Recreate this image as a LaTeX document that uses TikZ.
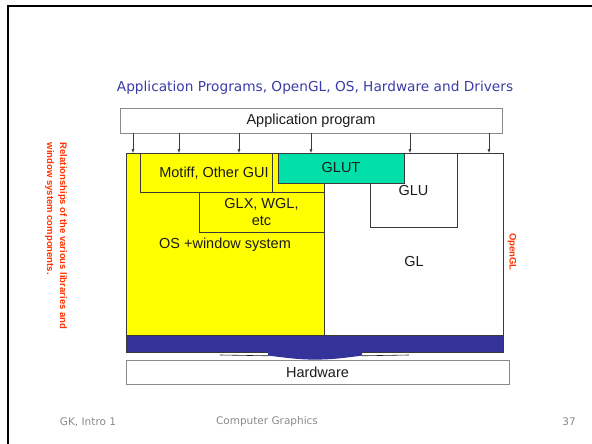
\documentclass[tikz,border=0pt]{standalone}
\usepackage{fontspec}
\setmainfont{Liberation Sans}
\newfontfamily\slidefont{DejaVu Sans}
\usetikzlibrary{positioning,calc,arrows.meta}
\definecolor{GTitle}{HTML}{3B3BA8}
\definecolor{GInk}{HTML}{1B1B1B}
\definecolor{GLine}{HTML}{3A3A3A}
\definecolor{GYellow}{HTML}{FFFF00}
\definecolor{GTeal}{HTML}{00E0A8}
\definecolor{GBlue}{HTML}{333399}
\definecolor{GRed}{HTML}{FF3300}
\definecolor{GGray}{HTML}{8A8A8A}

\begin{document}
\begin{tikzpicture}[x=1pt, y=-1pt,
  layer/.style={draw=GLine, line width=0.8pt, inner sep=0pt, text=GInk,
    font=\fontsize{14.5}{17}\selectfont},
  label/.style={inner sep=0pt, text=GInk, font=\fontsize{14.5}{17}\selectfont},
  side/.style={rotate=-90, inner sep=0pt, text=GRed, font=\fontsize{9.5}{13}\selectfont\bfseries},
  footer/.style={inner sep=0pt, text=GGray, font=\slidefont\fontsize{10.5}{12}\selectfont},
  call/.style={GLine, line width=0.5pt, -{Latex[length=4pt,width=3pt]}}]
\useasboundingbox (0,0) rectangle (592,444);
\draw[black, line width=2pt] (7.5,444) -- (7.5,6.5) -- (592,6.5);
\node[text=GTitle, font=\slidefont\fontsize{13.7}{16}\selectfont] (title) at (315,88)
  {Application Programs, OpenGL, OS, Hardware and Drivers};
% main layers
\node[layer, fill=GYellow, minimum width=198, minimum height=182] (os) at (225,244) {};
\node[layer, fill=white, minimum width=179, minimum height=182] (gl) at (413.5,244) {};
\node[layer, fill=GYellow, minimum width=132, minimum height=39] (motif) at (206,172.5) {};
\node[label] (motiftext) at (214,173) {Motiff, Other GUI};
\node[layer, fill=GYellow, minimum width=125, minimum height=40, align=center] (glx) at (261.5,212) {GLX, WGL,\\etc};
\node[layer, fill=white, minimum width=87, minimum height=74] (glu) at (413.5,190) {};
\node[layer, fill=GTeal, minimum width=126, minimum height=30] (glut) at (341,168) {GLUT};
\node[label] (glutext) at (413.5,191) {GLU};
\node[label] (ostext) at (225,245) {OS +window system};
\node[label] (gltext) at (414,262) {GL};
\node[layer, fill=GBlue, minimum width=377, minimum height=17] (bus) at (314.5,343.5) {};
\node[layer, draw=GGray, fill=white, minimum width=383, minimum height=24] (hw) at (317.5,372) {Hardware};
\node[layer, draw=GGray, fill=white, minimum width=382, minimum height=25] (app) at (311,120.5) {Application program};
% funnel into hardware
\draw[GInk, line width=0.6pt] (220,355) -- (268,355.8) (362,355.8) -- (409,355);
\fill[GBlue] (268,352) -- (268,355.6) .. controls (292,358.5) and (300,359.6) .. (315,359.6)
  .. controls (330,359.6) and (340,358.5) .. (362,355.6) -- (362,352) -- cycle;
% calls from the application
\foreach \x in {133,179,239,311,410,489}{
  \coordinate (t\x) at (\x,153);
  \draw[call] (app.south -| t\x) -- (t\x);
}
\node[side, align=left] (note) at (56,236) {Relationships of the various libraries and\\window system components.};
\node[side] (opengl) at (512,252) {OpenGL};
\node[footer] (course) at (88,422) {GK, Intro 1};
\node[footer] (subject) at (267,422) {Computer Graphics};
\node[footer] (page) at (569,422) {37};
\end{tikzpicture}
\end{document}
